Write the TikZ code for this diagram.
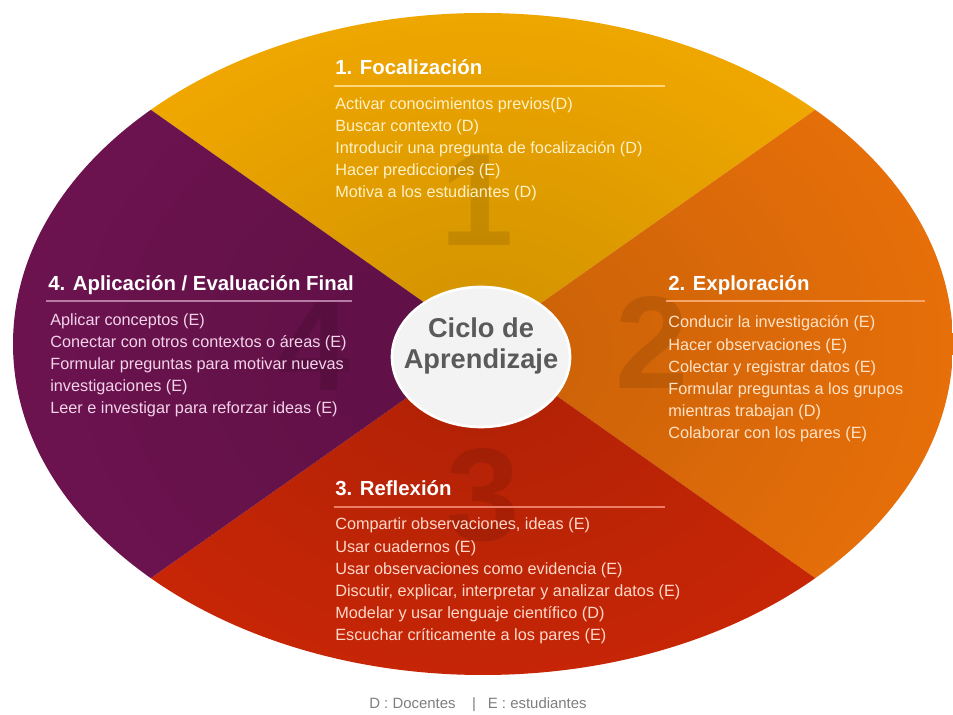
\documentclass[tikz,border=0pt]{standalone}
\usepackage{fontspec}
\setmainfont{Liberation Sans}
\usetikzlibrary{fadings}

% sector fills
\definecolor{secyellow}{HTML}{F9AE00}
\definecolor{secorange}{HTML}{EE730A}
\definecolor{secred}{HTML}{D02807}
\definecolor{secpurple}{HTML}{701452}
% text tints per sector
\definecolor{txtyellow}{HTML}{FFF1C6}
\definecolor{txtorange}{HTML}{FFE2C6}
\definecolor{txtred}{HTML}{FFD8CA}
\definecolor{txtpurple}{HTML}{F3D3EA}
% rules under headings
\definecolor{ruleyellow}{HTML}{FFD77A}
\definecolor{ruleorange}{HTML}{F7A66A}
\definecolor{rulered}{HTML}{EC7C66}
\definecolor{rulepurple}{HTML}{B77CA6}
\definecolor{hubgray}{HTML}{5A5A5A}
\definecolor{hubfill}{HTML}{F3F3F3}
\definecolor{legendgray}{HTML}{7E7E7E}

% darker tone towards the middle of the wheel
\tikzfading[name=centerfade, inner color=transparent!84, outer color=transparent!100]

\begin{document}
\begin{tikzpicture}[x=0.02cm, y=-0.02cm,
  sectitle/.style={anchor=base west, inner sep=0, text=white,
    font=\fontsize{11.6}{13}\selectfont\bfseries},
  itemlist/.style={anchor=base west, inner sep=0, align=left,
    font=\fontsize{9.25}{12.64}\selectfont},
  headrule/.style={line width=0.6pt},
  bigdigit/.style={inner sep=0, text=black, text opacity=0.10,
    font=\fontsize{75}{75}\selectfont\bfseries},
  hubtext/.style={inner sep=0, align=center, text=hubgray,
    font=\fontsize{15.5}{17.6}\selectfont\bfseries},
  legend/.style={inner sep=0, text=legendgray,
    font=\fontsize{8.5}{10}\selectfont}]

\useasboundingbox (0,0) rectangle (953,715);

% wheel centre and the four diagonal directions
\coordinate (c)  at (483,344);
\coordinate (nw) at (-181,-124);
\coordinate (ne) at (1147,-124);
\coordinate (se) at (1147,812);
\coordinate (sw) at (-181,812);

\begin{scope}
  \clip (c) ellipse (470 and 331);
  \fill[secyellow] (c) -- (nw) -- (ne) -- cycle;
  \fill[secorange] (c) -- (ne) -- (se) -- cycle;
  \fill[secred]    (c) -- (se) -- (sw) -- cycle;
  \fill[secpurple] (c) -- (sw) -- (nw) -- cycle;
  \fill[black, path fading=centerfade] (481,352) ellipse (580 and 460);
\end{scope}

% large faint phase numbers
\node[bigdigit] (d1) at (477,200) {1};
\node[bigdigit] (d2) at (652,342) {2};
\node[bigdigit] (d3) at (483,495) {3};
\node[bigdigit] (d4) at (314,345) {4};

% centre label on a light oval
\coordinate (hub) at (481,357);
\fill[hubfill, draw=white, line width=1.5pt] (hub) ellipse (89 and 70);
\node[hubtext] (hubtxt) at (481,346) {Ciclo de\\Aprendizaje};

% 1. Focalización
\node[sectitle] (t1) at (335,75) {1. Focalización};
\coordinate (r1a) at (334,86);
\coordinate (r1b) at (665,86);
\draw[headrule, ruleyellow] (r1a) -- (r1b);
\node[itemlist, text=txtyellow] (l1) at (335,198) {%
  Activar conocimientos previos(D)\\
  Buscar contexto (D)\\
  Introducir una pregunta de focalización (D)\\
  Hacer predicciones (E)\\
  Motiva a los estudiantes (D)};

% 2. Exploración
\node[sectitle] (t2) at (668,291) {2. Exploración};
\coordinate (r2a) at (666,301);
\coordinate (r2b) at (925,301);
\draw[headrule, ruleorange] (r2a) -- (r2b);
\node[itemlist, text=txtorange] (l2) at (668,439) {%
  Conducir la investigación (E)\\
  Hacer observaciones (E)\\
  Colectar y registrar datos (E)\\
  Formular preguntas a los grupos\\
  mientras trabajan (D)\\
  Colaborar con los pares (E)};

% 3. Reflexión
\node[sectitle] (t3) at (335,496) {3. Reflexión};
\coordinate (r3a) at (334,507);
\coordinate (r3b) at (665,507);
\draw[headrule, rulered] (r3a) -- (r3b);
\node[itemlist, text=txtred] (l3) at (335,641) {%
  Compartir observaciones, ideas (E)\\
  Usar cuadernos (E)\\
  Usar observaciones como evidencia (E)\\
  Discutir, explicar, interpretar y analizar datos (E)\\
  Modelar y usar lenguaje científico (D)\\
  Escuchar críticamente a los pares (E)};

% 4. Aplicación / Evaluación Final
\node[sectitle] (t4) at (48,291) {4. Aplicación / Evaluación Final};
\coordinate (r4a) at (46,301);
\coordinate (r4b) at (352,301);
\draw[headrule, rulepurple] (r4a) -- (r4b);
\node[itemlist, text=txtpurple] (l4) at (50,414) {%
  Aplicar conceptos (E)\\
  Conectar con otros contextos o áreas (E)\\
  Formular preguntas para motivar nuevas\\
  investigaciones (E)\\
  Leer e investigar para reforzar ideas (E)};

% key
\node[legend] (key) at (478,705) {D : Docentes\hspace{1.1em}|\hspace{0.8em}E : estudiantes};

\end{tikzpicture}
\end{document}
